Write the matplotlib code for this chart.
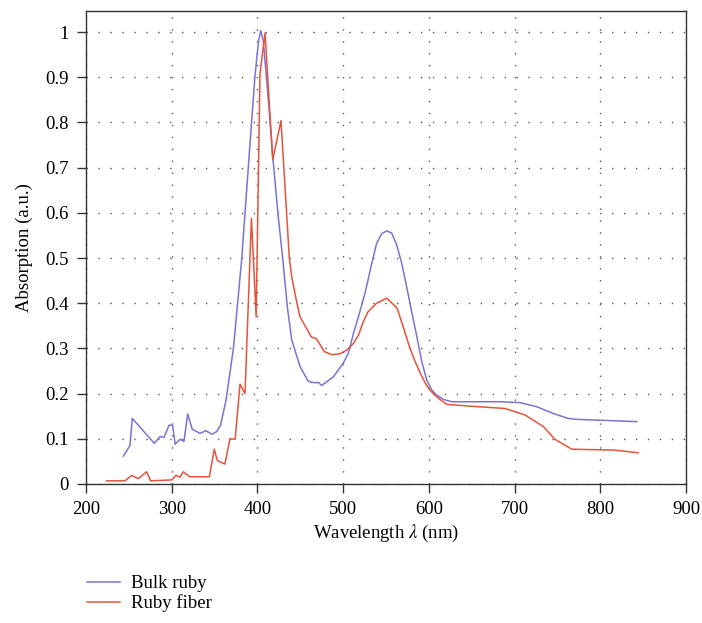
import matplotlib
matplotlib.use("Agg")
import matplotlib.pyplot as plt

# ---- data ----
bulk_wl = [243.6, 251.3, 254, 279.7, 286.4, 291, 296.9, 301, 304, 309.7, 314.3, 318.6,
           324, 333, 340, 346.7, 352.5, 357, 363.4, 372, 381.7, 389.4, 397, 401, 403.8, 406.8,
           412.7, 418.6, 424.3, 429.5, 435, 440, 449.7, 459, 463, 469, 471, 475, 488.6,
           500, 506, 512, 517.8, 525.5, 533.4, 539, 545, 551, 556.7, 562.5, 568.4, 574,
           580, 586, 591.7, 597.5, 603.4, 609, 617, 627, 683, 706.4, 725.9,
           745, 762.8, 772.6, 842.6]
bulk_abs = [0.062, 0.085, 0.145, 0.090, 0.105, 0.103, 0.130, 0.130, 0.088, 0.099, 0.094, 0.155,
            0.121, 0.112, 0.118, 0.110, 0.116, 0.130, 0.186, 0.300, 0.499, 0.702, 0.900, 0.975, 1.003, 0.982,
            0.850, 0.710, 0.591, 0.499, 0.390, 0.319, 0.260, 0.228, 0.225, 0.224, 0.225, 0.218, 0.237,
            0.267, 0.289, 0.333, 0.370, 0.422, 0.488, 0.532, 0.554, 0.560, 0.555, 0.529, 0.488, 0.437,
            0.381, 0.326, 0.271, 0.230, 0.208, 0.197, 0.187, 0.182, 0.182, 0.180, 0.171,
            0.156, 0.145, 0.143, 0.138]

fiber_wl = [224, 245.5, 253.3, 261, 270.7, 275.4, 300, 305, 309.7, 313.5, 321, 343.9,
            349.7, 353.2, 362, 368, 374, 379.7, 385.5, 393, 398.5, 403, 408.9, 417.8,
            427.5, 437.2, 440, 445, 449.7, 463, 469, 478, 486.7, 496, 504, 512, 518, 523.5,
            529, 539, 551, 563, 570, 578, 584, 590, 595.6, 601, 611, 621, 650, 689, 712,
            733.6, 747, 766.7, 817, 844]
fiber_abs = [0.007, 0.007, 0.019, 0.012, 0.027, 0.007, 0.009, 0.019, 0.015, 0.027, 0.016, 0.016,
             0.077, 0.052, 0.044, 0.100, 0.099, 0.221, 0.200, 0.588, 0.370, 0.908, 0.998, 0.717,
             0.804, 0.500, 0.458, 0.410, 0.370, 0.325, 0.321, 0.293, 0.286, 0.288, 0.296, 0.311,
             0.330, 0.359, 0.381, 0.400, 0.411, 0.389, 0.348, 0.300, 0.271, 0.245, 0.224, 0.208,
             0.190, 0.176, 0.172, 0.167, 0.153, 0.127, 0.099, 0.077, 0.075, 0.069]

xticks = [200, 300, 400, 500, 600, 700, 800, 900]
yticks = [0, 0.1, 0.2, 0.3, 0.4, 0.5, 0.6, 0.7, 0.8, 0.9, 1.0]
ytick_labels = ["0", "0.1", "0.2", "0.3", "0.4", "0.5", "0.6", "0.7", "0.8", "0.9", "1"]

plt.rcParams['font.family'] = ['Liberation Serif', 'DejaVu Serif']
plt.rcParams['mathtext.fontset'] = 'stix'

W, H = 702, 623
fig = plt.figure(figsize=(W/100, H/100), dpi=100)
ax = fig.add_axes([86/W, 1-484/H, 600/W, 473/H])

blue = '#7b72d4'
red = '#e5533c'
ax.plot(bulk_wl, bulk_abs, color=blue, lw=1.1, label='Bulk ruby', zorder=3)
ax.plot(fiber_wl, fiber_abs, color=red, lw=1.1, label='Ruby fiber', zorder=3)

FS = 13.5
ax.set_xlim(200, 900)
ax.set_ylim(0, 1.0465)
ax.set_xticks(xticks)
ax.set_yticks(yticks)
ax.set_yticklabels(ytick_labels)
ax.grid(True, color='#555555', linestyle=(0, (1, 7.6)), linewidth=1.0)
ax.tick_params(direction='out', length=6.5, width=1.0, color='#333333', labelsize=FS)
ax.tick_params(axis='x', pad=6)
ax.tick_params(axis='y', pad=6)
for s in ax.spines.values():
    s.set_color('#333333')
    s.set_linewidth(1.0)

ax.set_xlabel(r'Wavelength $\lambda$ (nm)', fontsize=FS, labelpad=3)
ax.set_ylabel('Absorption (a.u.)', fontsize=FS, labelpad=9)

fig.legend(loc='upper left', bbox_to_anchor=(87/W, 1-575/H), frameon=False,
           fontsize=FS, handlelength=1.76, handletextpad=0.6, labelspacing=0.12,
           borderpad=0, borderaxespad=0)

fig.savefig('out.png', dpi=100)
